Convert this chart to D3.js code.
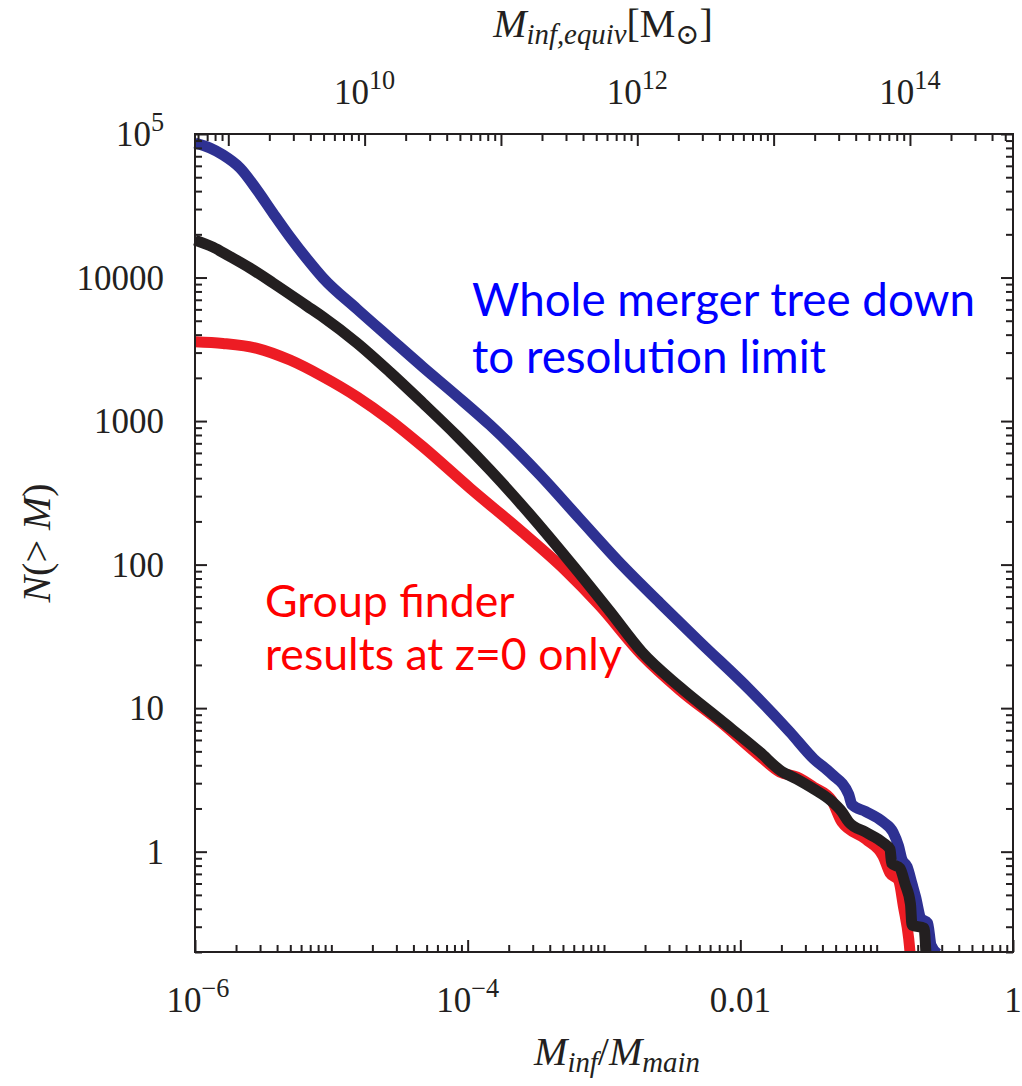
<!DOCTYPE html>
<html>
<head>
<meta charset="utf-8">
<script src="https://cdn.jsdelivr.net/npm/d3@7"></script>
<style>
  html, body { margin: 0; padding: 0; background: #fff; }
  svg { display: block; }
  .tick-label, .axis-title { font-family: "Liberation Serif", "DejaVu Serif", serif; fill: #231f20; }
  .note { font-family: Lato, "Open Sans", sans-serif; }
</style>
</head>
<body>
<svg id="chart" width="1022" height="1086"></svg>
<script>
// ---- Axis ranges ----------------------------------------------------------
const ratioDomain = [1e-6, 1];          // M_inf / M_main
const countDomain = [0.2, 1e5];         // N(>M)
const mainHaloMass = 5.7e14;            // M_sun, converts ratio -> equivalent mass

// ---- Tick labels ----------------------------------------------------------
const bottomLabelValues = [1e-6, 1e-4, 1e-2, 1];
const bottomLabelText   = [["10", "−6"], ["10", "−4"], ["0.01", ""], ["1", ""]];
const leftLabelValues   = [1, 10, 100, 1000, 10000, 1e5];
const leftLabelText     = [["1", ""], ["10", ""], ["100", ""], ["1000", ""], ["10000", ""], ["10", "5"]];
const topMajorValues    = [1e9, 1e10, 1e11, 1e12, 1e13, 1e14];
const topLabelValues    = [1e10, 1e12, 1e14];
const topLabelText      = [["10", "10"], ["10", "12"], ["10", "14"]];

// ---- Cumulative counts (log10 of mass ratio, log10 of N) -----------------
// whole merger tree down to the resolution limit
const treeLogRatio = [-6.000, -5.890, -5.795, -5.670, -5.545, -5.428, -5.303, -5.178, -5.061, -4.812,
  -4.570, -4.328, -4.078, -3.836, -3.469, -3.176, -2.861, -2.589, -2.296, -1.929,
  -1.636, -1.460, -1.331, -1.205, -1.181, -1.080, -0.953, -0.880, -0.840, -0.814,
  -0.777, -0.741, -0.714, -0.677, -0.626, -0.601, -0.550];
const treeLogN = [4.937, 4.902, 4.854, 4.763, 4.610, 4.449, 4.282, 4.129, 3.997, 3.781,
  3.578, 3.376, 3.174, 2.972, 2.624, 2.317, 1.990, 1.732, 1.460, 1.126,
  0.833, 0.645, 0.542, 0.399, 0.327, 0.279, 0.207, 0.136, 0.040, -0.056,
  -0.104, -0.224, -0.317, -0.463, -0.498, -0.652, -0.714];

// group finder results at z=0 only
const groupLogRatio = [-6.000, -5.795, -5.545, -5.303, -5.061, -4.812, -4.570, -4.328, -3.983, -3.616,
  -3.286, -3.029, -2.721, -2.442, -2.149, -1.856, -1.709, -1.584, -1.460, -1.331,
  -1.256, -1.080, -0.953, -0.902, -0.840, -0.802, -0.765, -0.752];
const groupLogN = [3.553, 3.541, 3.507, 3.425, 3.309, 3.169, 3.007, 2.821, 2.533, 2.240,
  1.962, 1.711, 1.369, 1.125, 0.906, 0.665, 0.554, 0.520, 0.449, 0.359,
  0.207, 0.087, -0.031, -0.150, -0.199, -0.391, -0.606, -0.735];

// infall masses (black curve)
const infallLogRatio = [-6.000, -5.868, -5.750, -5.597, -5.428, -5.178, -5.061, -4.812, -4.570, -4.328,
  -4.078, -3.836, -3.616, -3.213, -2.956, -2.721, -2.442, -2.149, -1.856, -1.709,
  -1.584, -1.460, -1.331, -1.256, -1.205, -1.080, -0.953, -0.902, -0.890, -0.829,
  -0.792, -0.752, -0.741, -0.653, -0.638];
const infallLogN = [4.261, 4.212, 4.150, 4.066, 3.962, 3.801, 3.725, 3.544, 3.341, 3.125,
  2.896, 2.659, 2.429, 1.976, 1.673, 1.390, 1.146, 0.920, 0.693, 0.568,
  0.505, 0.436, 0.352, 0.279, 0.207, 0.136, 0.063, 0.017, -0.080, -0.115,
  -0.224, -0.366, -0.511, -0.533, -0.721];

// ---- Layout ---------------------------------------------------------------
const plot = { left: 195, top: 134, right: 1013, bottom: 952 };
const ink = "#231f20";
const majorLen = 12, minorLen = 7;

const svg = d3.select("#chart");

const x = d3.scaleLog().domain(ratioDomain).range([plot.left, plot.right]);
const y = d3.scaleLog().domain(countDomain).range([plot.bottom, plot.top]);
const xTop = d3.scaleLog()
  .domain([ratioDomain[0] * mainHaloMass, ratioDomain[1] * mainHaloMass])
  .range([plot.left, plot.right]);

// ---- Curves ---------------------------------------------------------------
svg.append("clipPath").attr("id", "clip")
  .append("rect").attr("x", 0).attr("y", 0).attr("width", 1022).attr("height", plot.bottom);

const line = d3.line()
  .x(d => x(Math.pow(10, d[0])))
  .y(d => y(Math.pow(10, d[1])))
  .curve(d3.curveMonotoneX);

const series = [
  { lx: treeLogRatio,   ly: treeLogN,   color: "#2e3192" },
  { lx: groupLogRatio,  ly: groupLogN,  color: "#ed1c24" },
  { lx: infallLogRatio, ly: infallLogN, color: "#231f20" }
];

const curves = svg.append("g").attr("clip-path", "url(#clip)");
series.forEach(s => {
  curves.append("path")
    .datum(d3.zip(s.lx, s.ly))
    .attr("d", line)
    .attr("fill", "none")
    .attr("stroke", s.color)
    .attr("stroke-width", 11)
    .attr("stroke-linejoin", "round");
});

// ---- Ticks (all pointing inward) -----------------------------------------
function drawAxis(axisFn, scale, values, len, transform) {
  const g = svg.append("g")
    .attr("transform", transform)
    .call(axisFn(scale).tickValues(values).tickSize(-len).tickFormat(""));
  g.select(".domain").remove();
  g.selectAll(".tick line").attr("stroke", ink).attr("stroke-width", 2);
}

const sameDecade = (a, b) => Math.abs(Math.log10(a) - Math.log10(b)) < 1e-9;
const isDecade = v => Math.abs(Math.log10(v) - Math.round(Math.log10(v))) < 1e-9;

const bottomAll = x.ticks();
const bottomMajor = bottomAll.filter(v => bottomLabelValues.some(b => sameDecade(b, v)));
const bottomMinor = bottomAll.filter(v => !bottomMajor.includes(v));
drawAxis(d3.axisBottom, x, bottomMinor, minorLen, `translate(0,${plot.bottom})`);
drawAxis(d3.axisBottom, x, bottomMajor, majorLen, `translate(0,${plot.bottom})`);

const yAll = y.ticks();
const yMajor = yAll.filter(isDecade);
const yMinor = yAll.filter(v => !isDecade(v));
drawAxis(d3.axisLeft, y, yMinor, minorLen, `translate(${plot.left},0)`);
drawAxis(d3.axisLeft, y, yMajor, majorLen, `translate(${plot.left},0)`);
drawAxis(d3.axisRight, y, yMinor, minorLen, `translate(${plot.right},0)`);
drawAxis(d3.axisRight, y, yMajor, majorLen, `translate(${plot.right},0)`);

const topAll = xTop.ticks();
const topMajor = topAll.filter(v => topMajorValues.some(t => sameDecade(t, v)));
const topMinor = topAll.filter(v => !topMajor.includes(v));
drawAxis(d3.axisTop, xTop, topMinor, minorLen, `translate(0,${plot.top})`);
drawAxis(d3.axisTop, xTop, topMajor, majorLen, `translate(0,${plot.top})`);

// ---- Frame ----------------------------------------------------------------
svg.append("rect")
  .attr("x", plot.left).attr("y", plot.top)
  .attr("width", plot.right - plot.left).attr("height", plot.bottom - plot.top)
  .attr("fill", "none").attr("stroke", ink).attr("stroke-width", 2);

// ---- Tick labels ----------------------------------------------------------
const labelSize = 35;
function powerLabel(px, py, parts, anchor) {
  const t = svg.append("text")
    .attr("class", "tick-label")
    .attr("x", px).attr("y", py)
    .attr("text-anchor", anchor)
    .attr("font-size", labelSize);
  t.append("tspan").text(parts[0]);
  if (parts[1]) {
    t.append("tspan").attr("font-size", labelSize * 0.75).attr("dy", -labelSize * 0.42).text(parts[1]);
  }
  return t;
}

bottomLabelValues.forEach((v, i) => powerLabel(x(v) + (i === 0 ? 3 : 0), 1012, bottomLabelText[i], "middle"));
leftLabelValues.forEach((v, i) => powerLabel(164, y(v) + 12, leftLabelText[i], "end"));
topLabelValues.forEach((v, i) => powerLabel(xTop(v), 104, topLabelText[i], "middle"));

// ---- Axis titles ----------------------------------------------------------
const titleSize = 40;
const subSize = titleSize * 0.72;
const subDrop = 7;
function sub(t, s, italic) {
  t.append("tspan").attr("font-style", italic ? "italic" : "normal")
    .attr("font-size", subSize).attr("dy", subDrop).text(s);
}

const bottomTitle = svg.append("text").attr("class", "axis-title")
  .attr("x", 617).attr("y", 1065).attr("text-anchor", "middle").attr("font-size", titleSize);
bottomTitle.append("tspan").attr("font-style", "italic").text("M");
sub(bottomTitle, "inf", true);
bottomTitle.append("tspan").attr("dy", -subDrop).text("/");
bottomTitle.append("tspan").attr("font-style", "italic").text("M");
sub(bottomTitle, "main", true);

const topTitle = svg.append("text").attr("class", "axis-title")
  .attr("x", 603).attr("y", 37).attr("text-anchor", "middle").attr("font-size", titleSize);
topTitle.append("tspan").attr("font-style", "italic").text("M");
sub(topTitle, "inf,equiv", true);
topTitle.append("tspan").attr("dy", -subDrop).text("[M");
sub(topTitle, "⊙", false);
topTitle.append("tspan").attr("dy", -subDrop).text("]");

const leftTitle = svg.append("text").attr("class", "axis-title")
  .attr("transform", "translate(50,543) rotate(-90)")
  .attr("text-anchor", "middle").attr("font-size", titleSize);
leftTitle.append("tspan").attr("font-style", "italic").text("N");
leftTitle.append("tspan").text("(> ");
leftTitle.append("tspan").attr("font-style", "italic").text("M");
leftTitle.append("tspan").text(")");

// ---- Annotations ----------------------------------------------------------
function note(lines, px, baselines, color, fitIndex, fitWidth) {
  const texts = lines.map((s, i) => svg.append("text").attr("class", "note")
    .attr("x", px).attr("y", baselines[i]).attr("fill", color).attr("font-size", 40).text(s));
  const w = texts[fitIndex].node().getComputedTextLength();
  const size = 40 * fitWidth / w;
  texts.forEach(t => t.attr("font-size", size));
}
note(["Whole merger tree down", "to resolution limit"], 472, [316, 373], "#0000ff", 0, 503);
note(["Group finder", "results at z=0 only"], 265, [617, 670], "#ff0000", 1, 357);
</script>
</body>
</html>
